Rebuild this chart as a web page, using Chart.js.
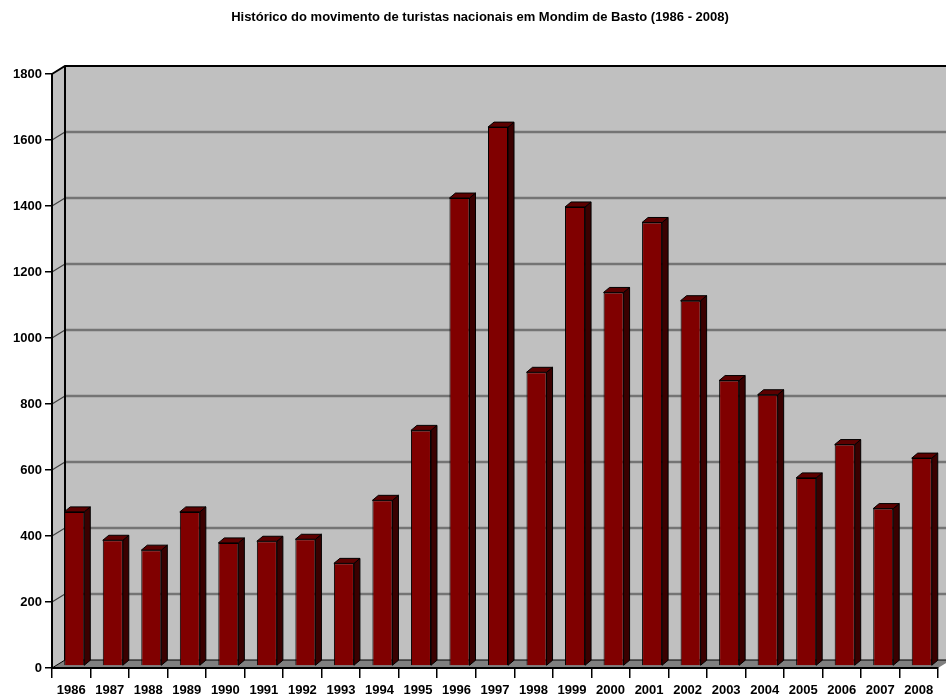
<!DOCTYPE html>
<html>
<head>
<meta charset="utf-8">
<title>Turistas nacionais em Mondim de Basto</title>
<script src="https://cdn.jsdelivr.net/npm/chart.js@4/dist/chart.umd.min.js"></script>
<style>
  html, body { margin: 0; padding: 0; background: #fff; overflow: hidden; }
  #wrap { width: 960px; height: 700px; }
</style>
</head>
<body>
<div id="wrap"><canvas id="c" width="960" height="700"></canvas></div>
<script>
// Anos (categorias)
const years = ['1986','1987','1988','1989','1990','1991','1992','1993','1994','1995','1996',
               '1997','1998','1999','2000','2001','2002','2003','2004','2005','2006','2007','2008'];
// Número de turistas nacionais por ano
const tourists = [467, 381, 351, 467, 373, 378, 384, 311, 502, 714, 1418,
                  1633, 890, 1391, 1132, 1344, 1107, 865, 822, 570, 671, 477, 630];
// Valores do eixo vertical
const yTickValues = [0, 200, 400, 600, 800, 1000, 1200, 1400, 1600, 1800];

const chartTitle = 'Histórico do movimento de turistas nacionais em Mondim de Basto (1986 - 2008)';

// Profundidade das paredes e das colunas (efeito 3D)
const WALL_DX = 13, WALL_DY = 8;
const BAR_DX = 6, BAR_DY = 5;
const BAR_SHIFT_X = 3, BAR_SHIFT_Y = -2;

const FONT = '"Liberation Sans", Arial, sans-serif';

const walls3d = {
  id: 'walls3d',
  beforeDraw(chart) {
    const ctx = chart.ctx;
    const a = chart.chartArea;
    const ys = chart.scales.y;
    const L = a.left, R = a.right, T = a.top, B = a.bottom;
    ctx.save();
    // parede lateral e parede de fundo
    ctx.fillStyle = '#c0c0c0';
    ctx.beginPath();
    ctx.moveTo(L, T); ctx.lineTo(L + WALL_DX, T - WALL_DY);
    ctx.lineTo(L + WALL_DX, B - WALL_DY); ctx.lineTo(L, B);
    ctx.closePath(); ctx.fill();
    ctx.fillRect(L + WALL_DX, T - WALL_DY, R - L, B - T);
    // linhas de grelha
    yTickValues.forEach(v => {
      if (v === 0 || v === yTickValues[yTickValues.length - 1]) return;
      const py = ys.getPixelForValue(v);
      ctx.strokeStyle = '#747474';
      ctx.lineWidth = 2.5;
      ctx.beginPath();
      ctx.moveTo(L + WALL_DX, py - WALL_DY); ctx.lineTo(R + WALL_DX, py - WALL_DY);
      ctx.stroke();
      ctx.strokeStyle = '#404040';
      ctx.lineWidth = 1.2;
      ctx.beginPath();
      ctx.moveTo(L, py); ctx.lineTo(L + WALL_DX, py - WALL_DY);
      ctx.stroke();
    });
    // chão
    ctx.fillStyle = '#808080';
    ctx.beginPath();
    ctx.moveTo(L, B); ctx.lineTo(L + WALL_DX, B - WALL_DY);
    ctx.lineTo(R + WALL_DX, B - WALL_DY); ctx.lineTo(R, B);
    ctx.closePath(); ctx.fill();
    ctx.strokeStyle = '#000';
    ctx.lineWidth = 1;
    ctx.beginPath();
    ctx.moveTo(L, B); ctx.lineTo(L + WALL_DX, B - WALL_DY); ctx.lineTo(R + WALL_DX, B - WALL_DY);
    ctx.stroke();
    // arestas das paredes
    ctx.lineWidth = 2;
    ctx.beginPath();
    ctx.moveTo(L, T); ctx.lineTo(L + WALL_DX, T - WALL_DY); ctx.lineTo(R + WALL_DX, T - WALL_DY);
    ctx.moveTo(L + WALL_DX, T - WALL_DY); ctx.lineTo(L + WALL_DX, B - WALL_DY);
    ctx.stroke();
    ctx.restore();
  },
  beforeDatasetsDraw(chart) {
    chart.ctx.save();
    chart.ctx.translate(BAR_SHIFT_X, BAR_SHIFT_Y);
  },
  afterDatasetsDraw(chart) {
    const ctx = chart.ctx;
    const meta = chart.getDatasetMeta(0);
    ctx.lineWidth = 1;
    ctx.strokeStyle = '#000';
    meta.data.forEach(bar => {
      const p = bar.getProps(['x', 'y', 'base', 'width'], true);
      const left = p.x - p.width / 2, right = p.x + p.width / 2;
      // face lateral
      ctx.fillStyle = '#3a0000';
      ctx.beginPath();
      ctx.moveTo(right, p.y); ctx.lineTo(right + BAR_DX, p.y - BAR_DY);
      ctx.lineTo(right + BAR_DX, p.base - BAR_DY); ctx.lineTo(right, p.base);
      ctx.closePath(); ctx.fill(); ctx.stroke();
      // topo
      ctx.fillStyle = '#5c0000';
      ctx.beginPath();
      ctx.moveTo(left, p.y); ctx.lineTo(left + BAR_DX, p.y - BAR_DY);
      ctx.lineTo(right + BAR_DX, p.y - BAR_DY); ctx.lineTo(right, p.y);
      ctx.closePath(); ctx.fill(); ctx.stroke();
    });
    ctx.restore();
  },
  afterDraw(chart) {
    // título centrado na página
    const ctx = chart.ctx;
    ctx.save();
    ctx.fillStyle = '#000';
    ctx.font = 'bold 13px ' + FONT;
    ctx.textAlign = 'center';
    ctx.textBaseline = 'middle';
    ctx.fillText(chartTitle, 480, 17);
    ctx.restore();
  }
};

new Chart(document.getElementById('c'), {
  type: 'bar',
  data: {
    labels: years,
    datasets: [{
      data: tourists,
      backgroundColor: '#800000',
      borderColor: '#000',
      borderWidth: 1,
      barPercentage: 0.52,
      categoryPercentage: 1,
      clip: false
    }]
  },
  options: {
    responsive: false,
    devicePixelRatio: 1,
    animation: false,
    layout: { padding: { left: 0, right: 22, top: 74, bottom: 0 } },
    plugins: {
      legend: { display: false },
      tooltip: { enabled: false },
      title: { display: false }
    },
    scales: {
      x: {
        offset: true,
        border: { display: true, color: '#000', width: 2 },
        grid: { drawOnChartArea: false, drawTicks: true, tickLength: 10, color: '#000', lineWidth: 1.5, offset: true },
        ticks: {
          color: '#000', autoSkip: false, maxRotation: 0, padding: 5,
          font: { family: FONT, size: 13, weight: 'bold' }
        },
        afterFit(scale) { scale.height = 32; }
      },
      y: {
        min: 0,
        max: 1800,
        border: { display: true, color: '#000', width: 2 },
        grid: { drawOnChartArea: false, drawTicks: true, tickLength: 7, color: '#000', lineWidth: 1.5 },
        ticks: {
          color: '#000', padding: 3,
          font: { family: FONT, size: 13, weight: 'bold' },
          callback: v => String(v)
        },
        afterBuildTicks(scale) { scale.ticks = yTickValues.map(v => ({ value: v })); },
        afterFit(scale) { scale.width = 52; }
      }
    }
  },
  plugins: [walls3d]
});
</script>
</body>
</html>
